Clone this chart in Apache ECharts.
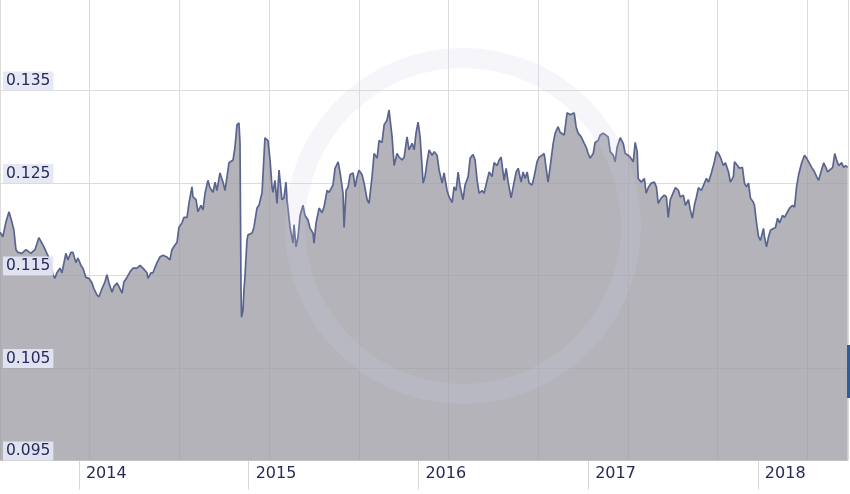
<!DOCTYPE html>
<html><head><meta charset="utf-8">
<script src="https://cdn.jsdelivr.net/npm/echarts@6/dist/echarts.min.js"></script>
<style>html,body{margin:0;padding:0;background:#fff}#c{width:850px;height:494px}</style>
</head><body><div id="c"></div>
<script>
// Dates as decimal years, rates
const dates = [
2013.535,2013.552,2013.570,2013.588,2013.605,2013.617,2013.629,2013.641,2013.664,2013.688,2013.699,2013.717,2013.741,2013.764,2013.782,2013.794,2013.811,2013.829,2013.847,2013.859,2013.870,2013.888,2013.900,2013.912,2013.923,2013.935,2013.953,2013.965,2013.982,2013.994,2014.012,2014.024,2014.041,2014.059,2014.077,2014.088,2014.106,2014.118,2014.136,2014.153,2014.165,2014.177,2014.195,2014.206,2014.224,2014.236,2014.254,2014.265,2014.283,2014.301,2014.318,2014.342,2014.360,
2014.377,2014.401,2014.407,2014.424,2014.436,2014.460,2014.477,2014.495,2014.519,2014.536,2014.548,2014.566,2014.578,2014.589,2014.607,2014.619,2014.637,2014.648,2014.666,2014.672,2014.690,2014.701,2014.719,2014.731,2014.743,2014.760,2014.772,2014.790,2014.802,2014.813,2014.831,2014.849,2014.861,2014.872,2014.884,2014.908,2014.919,2014.931,2014.943,2014.949,2014.955,2014.958,2014.967,2014.972,2014.978,2014.990,2014.996,2015.020,2015.031,2015.049,2015.061,2015.079,2015.085,2015.096,2015.114,2015.126,2015.138,2015.143,2015.155,2015.167,2015.179,
2015.196,2015.208,2015.220,2015.226,2015.244,2015.261,2015.267,2015.279,2015.291,2015.303,2015.320,2015.332,2015.350,2015.362,2015.379,2015.385,2015.397,2015.415,2015.432,2015.444,2015.462,2015.474,2015.497,2015.509,2015.527,2015.538,2015.556,2015.562,2015.574,2015.586,2015.597,2015.615,2015.627,2015.639,2015.650,2015.668,2015.680,2015.698,2015.709,2015.727,2015.739,2015.757,2015.768,2015.786,2015.798,2015.815,2015.827,2015.845,2015.857,2015.874,2015.886,2015.904,2015.916,2015.933,2015.945,2015.963,2015.975,2015.986,2015.998,2016.010,
2016.028,2016.039,2016.051,2016.063,2016.081,2016.093,2016.110,2016.122,2016.140,2016.151,2016.169,2016.181,2016.199,2016.210,2016.222,2016.234,2016.246,2016.263,2016.275,2016.293,2016.305,2016.322,2016.334,2016.346,2016.358,2016.375,2016.387,2016.405,2016.417,2016.434,2016.446,2016.464,2016.476,2016.487,2016.505,2016.517,2016.529,2016.546,2016.564,2016.576,2016.588,2016.605,2016.617,2016.629,2016.641,2016.652,2016.670,2016.682,2016.699,2016.711,2016.729,2016.741,2016.752,2016.764,2016.776,2016.794,2016.806,2016.823,2016.835,
2016.859,2016.876,2016.894,2016.918,2016.929,2016.941,2016.959,2016.977,2016.988,2017.000,2017.012,2017.030,2017.041,2017.059,2017.071,2017.089,2017.100,2017.118,2017.130,2017.148,2017.159,2017.171,2017.189,2017.207,2017.218,2017.236,2017.248,2017.266,2017.277,2017.289,2017.295,2017.313,2017.331,2017.342,2017.354,2017.372,2017.390,2017.402,2017.413,2017.431,2017.449,2017.461,2017.472,2017.484,2017.502,2017.514,2017.532,2017.543,2017.561,2017.573,2017.591,2017.602,2017.614,2017.626,2017.638,2017.650,2017.667,
2017.685,2017.697,2017.709,2017.726,2017.744,2017.756,2017.768,2017.779,2017.797,2017.809,2017.827,2017.838,2017.856,2017.862,2017.880,2017.891,2017.909,2017.921,2017.933,2017.945,2017.956,2017.974,2017.980,2017.992,2018.004,2018.015,2018.033,2018.039,2018.051,2018.063,2018.074,2018.092,2018.104,2018.116,2018.128,2018.145,2018.157,2018.175,2018.187,2018.204,2018.216,2018.228,2018.240,2018.258,2018.275,2018.287,2018.299,2018.317,2018.334,2018.346,2018.358,2018.370,2018.388,2018.400,2018.411,2018.423,2018.441,2018.453,2018.464,2018.476,2018.494,2018.505,2018.517,2018.529
];
const rates = [
0.1197,0.1192,0.1208,0.1219,0.1208,0.1199,0.1178,0.1175,0.1174,0.1178,0.1180,0.1174,0.1178,0.1191,0.1185,0.1181,0.1174,0.1167,0.1151,0.1147,0.1153,0.1158,0.1153,0.1164,0.1174,0.1167,0.1175,0.1175,0.1164,0.1169,0.1161,0.1158,0.1148,0.1147,0.1142,0.1136,0.1129,0.1127,0.1136,0.1143,0.1151,0.1142,0.1132,0.1138,0.1142,0.1138,0.1131,0.1143,0.1148,0.1154,0.1158,0.1158,0.1161,
0.1158,0.1153,0.1147,0.1153,0.1153,0.1164,0.1170,0.1172,0.1170,0.1167,0.1178,0.1183,0.1186,0.1202,0.1207,0.1213,0.1213,0.1228,0.1246,0.1235,0.1232,0.1219,0.1226,0.1221,0.1239,0.1253,0.1245,0.1240,0.1251,0.1242,0.1261,0.1251,0.1242,0.1240,0.1272,0.1275,0.1288,0.1313,0.1315,0.1293,0.1134,0.1105,0.1113,0.1134,0.1148,0.1188,0.1194,0.1196,0.1202,0.1223,0.1226,0.1240,0.1261,0.1299,0.1296,0.1275,0.1245,0.1240,0.1253,0.1228,0.1264,
0.1232,0.1234,0.1251,0.1232,0.1202,0.1185,0.1205,0.1181,0.1192,0.1215,0.1226,0.1215,0.1210,0.1201,0.1196,0.1185,0.1207,0.1223,0.1218,0.1224,0.1242,0.1240,0.1248,0.1266,0.1273,0.1262,0.1239,0.1202,0.1242,0.1246,0.1259,0.1261,0.1246,0.1257,0.1264,0.1259,0.1250,0.1232,0.1228,0.1257,0.1282,0.1277,0.1296,0.1294,0.1313,0.1318,0.1329,0.1300,0.1269,0.1282,0.1278,0.1275,0.1278,0.1300,0.1286,0.1293,0.1286,0.1304,0.1316,0.1300,
0.1250,0.1257,0.1273,0.1286,0.1280,0.1284,0.1280,0.1264,0.1250,0.1261,0.1242,0.1235,0.1229,0.1246,0.1242,0.1262,0.1246,0.1232,0.1248,0.1257,0.1277,0.1281,0.1275,0.1253,0.1239,0.1242,0.1239,0.1253,0.1262,0.1257,0.1272,0.1269,0.1275,0.1278,0.1253,0.1266,0.1251,0.1234,0.1251,0.1262,0.1266,0.1251,0.1262,0.1255,0.1262,0.1250,0.1248,0.1257,0.1273,0.1278,0.1280,0.1282,0.1267,0.1251,0.1267,0.1293,0.1304,0.1311,0.1305,
0.1302,0.1326,0.1324,0.1326,0.1311,0.1304,0.1300,0.1293,0.1289,0.1282,0.1277,0.1282,0.1294,0.1296,0.1302,0.1304,0.1305,0.1300,0.1284,0.1280,0.1273,0.1289,0.1299,0.1293,0.1282,0.1280,0.1278,0.1273,0.1294,0.1284,0.1255,0.1251,0.1255,0.1239,0.1245,0.1250,0.1251,0.1246,0.1228,0.1234,0.1237,0.1235,0.1213,0.1232,0.1240,0.1245,0.1242,0.1235,0.1237,0.1226,0.1232,0.1221,0.1212,0.1226,0.1235,0.1245,0.1242,
0.1250,0.1255,0.1251,0.1261,0.1273,0.1284,0.1282,0.1278,0.1269,0.1272,0.1262,0.1251,0.1257,0.1273,0.1269,0.1266,0.1267,0.1250,0.1246,0.1250,0.1234,0.1229,0.1226,0.1207,0.1192,0.1188,0.1201,0.1192,0.1181,0.1192,0.1199,0.1201,0.1202,0.1212,0.1207,0.1215,0.1213,0.1219,0.1223,0.1226,0.1224,0.1246,0.1259,0.1272,0.1280,0.1277,0.1273,0.1267,0.1262,0.1257,0.1253,0.1261,0.1272,0.1267,0.1262,0.1264,0.1267,0.1282,0.1275,0.1269,0.1272,0.1267,0.1269,0.1267
];
const yearTicks = [2014, 2015, 2016, 2017, 2018];
const halfYearTicks = [2014.52, 2015.52, 2016.52, 2017.52];
const yMin = 0.095, yMax = 0.1448, yStep = 0.01;
const xStart = 2013.535, xEnd = 2018.531;

const n = Math.min(dates.length, rates.length);
const seriesData = [];
for (let i = 0; i < n; i++) seriesData.push([dates[i], rates[i]]);

const labelFont = 'DejaVu Sans';
const chart = echarts.init(document.getElementById('c'), null, {renderer: 'canvas'});
chart.setOption({
  animation: false,
  backgroundColor: '#ffffff',
  grid: {left: 0, right: 2, top: 0, bottom: 33.5, containLabel: false},
  xAxis: [
    {
      type: 'value', min: xStart, max: xEnd,
      axisLine: {show: false},
      splitLine: {show: false},
      axisTick: {show: true, length: 29, lineStyle: {color: '#d6d6d6', width: 1},
        customValues: yearTicks},
      axisLabel: {
        customValues: yearTicks,
        formatter: v => String(Math.round(v)),
        align: 'left', verticalAlign: 'middle', margin: 13, padding: [0, 0, 0, 7],
        color: '#262a5a', fontFamily: labelFont, fontSize: 16
      }
    },
    {
      type: 'value', min: xStart, max: xEnd,
      axisLine: {show: false}, splitLine: {show: false},
      axisTick: {show: true, length: 4, lineStyle: {color: '#cfcfcf'}, customValues: halfYearTicks},
      axisLabel: {show: false}
    },
    {
      type: 'value', min: 0, max: 848 / 89.7, interval: 1,
      axisLine: {show: false}, axisTick: {show: false}, axisLabel: {show: false},
      splitLine: {show: true, lineStyle: {color: '#dcdcdc', width: 1}}
    }
  ],
  yAxis: [
    {
      type: 'value', min: yMin, max: yMax, interval: yStep,
      axisLine: {show: false}, axisTick: {show: false}, axisLabel: {show: false},
      splitLine: {show: true, showMaxLine: false, lineStyle: {color: '#dcdcdc', width: 1}}
    },
    {
      type: 'value', position: 'left', min: yMin, max: yMax, interval: yStep,
      axisLine: {show: false}, axisTick: {show: false}, splitLine: {show: false},
      axisLabel: {
        inside: true, showMaxLabel: false, margin: 3,
        align: 'left', verticalAlign: 'bottom',
        formatter: v => v.toFixed(3),
        color: '#262a5a', fontFamily: labelFont, fontSize: 15.5, lineHeight: 15,
        backgroundColor: 'rgba(228,230,243,0.92)', padding: [2, 3, 2, 3]
      },
      z: 5
    }
  ],
  graphic: [
    {type: 'ring', silent: true, z: 50, shape: {cx: 463, cy: 226, r: 178, r0: 158},
      style: {fill: 'rgba(205,206,228,0.2)'}},
    {type: 'rect', silent: true, z: 60, shape: {x: 847, y: 345, width: 3, height: 53},
      style: {fill: '#2f5d98'}}
  ],
  series: [{
    type: 'line', xAxisIndex: 0, yAxisIndex: 0,
    data: seriesData, showSymbol: false, symbol: 'none', smooth: false,
    lineStyle: {color: '#5a6490', width: 1.7},
    areaStyle: {color: 'rgba(158,158,165,0.78)', opacity: 1, origin: 'start'},
    z: 2
  }]
});
</script>
</body></html>
